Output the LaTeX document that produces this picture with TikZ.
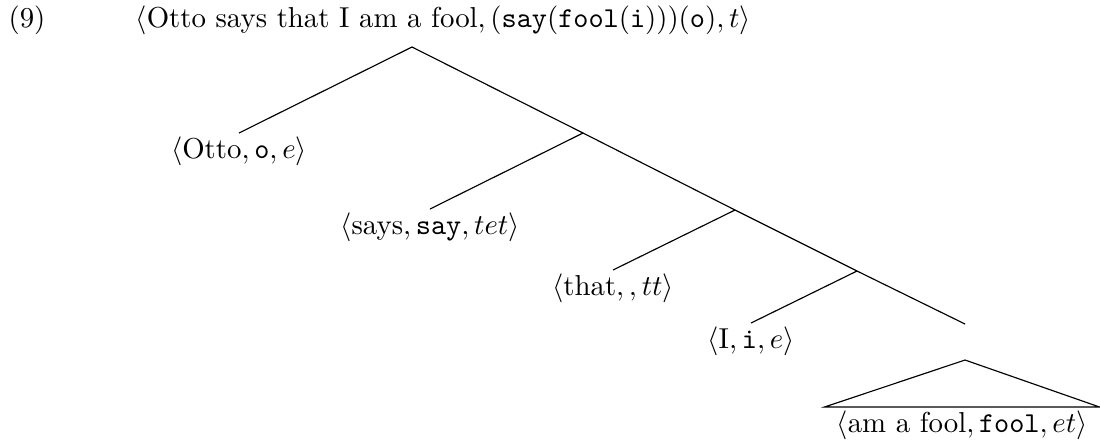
\documentclass[tikz,border=0pt]{standalone}
\usepackage{amsmath}
\begin{document}
\begin{tikzpicture}[x=0.347pt,y=-0.347pt,
  leaf/.style={anchor=north, inner sep=1pt},
  lbl/.style={anchor=base west, inner sep=0pt},
  edge/.style={line width=0.4pt}]
\useasboundingbox (0,0) rectangle (1100,441);
\node[lbl] (num) at (8,27) {(9)};
\node[lbl] (root) at (135,27) {$\langle\text{Otto says that I am a fool}, (\texttt{say}(\texttt{fool}(\texttt{i})))(\texttt{o}), t\rangle$};
\coordinate (a) at (412,47);
\coordinate (b1) at (583,133);
\coordinate (b2) at (735,210);
\coordinate (b3) at (857,271);
\coordinate (b4) at (965,324);
\coordinate (r) at (965,360);
\node[leaf] (otto) at (239,133) {$\langle\text{Otto}, \texttt{o}, e\rangle$};
\node[leaf] (says) at (430,209) {$\langle\text{says}, \texttt{say}, tet\rangle$};
\node[leaf] (that) at (613,270) {$\langle\text{that}, , tt\rangle$};
\node[leaf] (i) at (751,323) {$\langle\text{I}, \texttt{i}, e\rangle$};
\node[anchor=north, inner ysep=1pt, inner xsep=4pt] (fool) at (962,407) {$\langle\text{am a fool}, \texttt{fool}, et\rangle$};
\draw[edge] (otto.north) -- (a) -- (b1) -- (b2) -- (b3) -- (b4);
\draw[edge] (says.north) -- (b1);
\draw[edge] (that.north) -- (b2);
\draw[edge] (i.north) -- (b3);
\draw[edge] (r) -- (fool.north west) -- (fool.north east) -- cycle;
\end{tikzpicture}
\end{document}
